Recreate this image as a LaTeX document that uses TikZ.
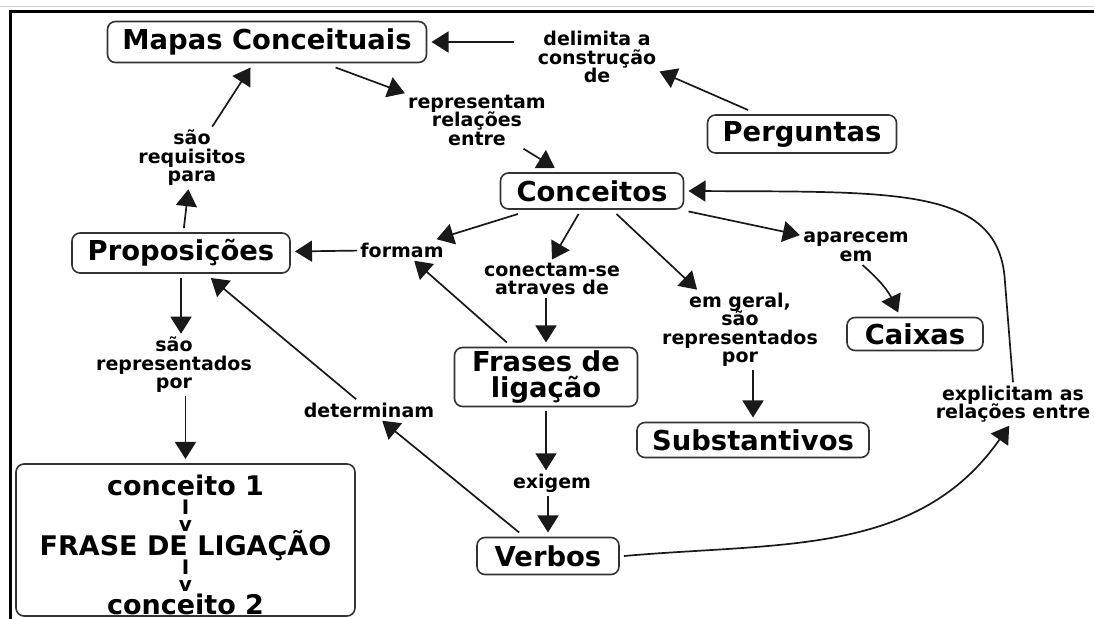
\documentclass[tikz,border=0pt]{standalone}
\usepackage{fontspec}
\setmainfont{DejaVu Sans}
\usetikzlibrary{arrows.meta}
\newcommand\tightlines{\lineskiplimit=-50pt\relax}
\begin{document}
\begin{tikzpicture}[x=0.5pt,y=-0.5pt]

\tikzset{
        every node/.style={font=\fontsize{9.5}{9.25}\selectfont\bfseries\tightlines, align=center, inner sep=1.5pt},
        link/.style={draw=black!90, line width=0.85pt, -{Triangle[length=8.5pt,width=10.5pt]}},
        concept/.style={draw=black!80, line width=0.8pt, rounded corners=4pt, fill=white, inner sep=0pt, outer sep=2.5pt,
                font=\fontsize{13.7}{12.6}\selectfont\bfseries\tightlines},
        big/.style={inner sep=0pt, text height=9.9pt, text depth=0pt, font=\fontsize{13.5}{13.5}\selectfont\bfseries},
        small/.style={inner sep=0pt, text height=5.6pt, text depth=0pt, font=\fontsize{10}{10}\selectfont\bfseries},
        frame/.style={line width=1.5pt}
}

\useasboundingbox (0,0) rectangle (1094,619);
\draw[gray!35, line width=0.5pt] (0,7) -- (1094,7);
\draw[frame] (1094,12) -- (10,12) -- (10,619);

\node[concept, minimum width=159.5pt, minimum height=20.5pt] (mapas) at (267,42) {Mapas Conceituais};
\node[concept, minimum width=94.5pt, minimum height=19pt] (perg) at (802,134) {Perguntas};
\node[concept, minimum width=91.5pt, minimum height=18pt] (conc) at (592,191) {Conceitos};
\node[concept, minimum width=109pt, minimum height=20pt] (prop) at (181,253) {Proposições};
\node[concept, minimum width=91.5pt, minimum height=29.5pt] (frases) at (546,377) {Frases de\\ligação};
\node[concept, minimum width=71pt, minimum height=18.5pt] (verbos) at (548,556) {Verbos};
\node[concept, minimum width=116pt, minimum height=17.5pt] (subst) at (753,440) {Substantivos};
\node[concept, minimum width=68pt, minimum height=16.5pt] (caixas) at (915,334) {Caixas};
\node[concept, minimum width=169.5pt, minimum height=76pt] (cbox) at (185.5,540) {};

\foreach \i/\y/\s/\t in {1/486/big/conceito 1, 2/509/small/I, 3/526/small/v, 4/546/big/FRASE DE LIGAÇÃO,
                          5/569/small/I, 6/586/small/v, 7/605/big/conceito 2} {
     \node[\s] (line\i) at (185.5,\y) {\t};
}

\node (delim) at (597,57) {delimita a\\construção\\de};
\node (repr) at (477,120) {representam\\relações\\entre};
\node (req) at (192,158) {são\\requisitos\\para};
\node (formam) at (402,250) {formam};
\node (conect) at (552,279) {conectam-se\\atraves de};
\node (emg) at (740,330) {em geral,\\são\\representados\\por};
\node (apar) at (856,247) {aparecem\\em};
\node (rep2) at (174,365) {são\\representados\\por};
\node (determ) at (369,410) {determinam};
\node (exig) at (552,483) {exigem};
\node (expl) at (1013,404) {explicitam as\\relações entre};

\draw[link, shorten <=10pt] (delim.west |- mapas.east) -- (mapas.east);
\draw[link] (mapas) -- (repr);
\draw[link] (repr) -- (conc);
\draw[link] (perg.156) -- (delim.-13);
\draw[link] (prop) -- (req);
\draw[link] (req) -- (mapas);
\draw[link] (conc) -- (formam);
\draw[link] (formam) -- (prop);
\draw[link] (frases) -- (formam);
\draw[link] (conc) -- (conect.north);
\draw[link] (conect.south -| frases.north) -- (frases.north);
\draw[link] (frases.south) -- (frases.south |- exig.north);
\draw[link] (exig.south -| verbos.north) -- (verbos.north);
\draw[link] (verbos) -- (determ);
\draw[link] (determ) -- (prop);
\draw[link] (prop.south) -- (prop.south |- rep2.north);
\draw[link] (rep2.south -| cbox.north) -- (cbox.north);
\draw[link] (conc) -- (emg);
\draw[link] (emg.south -| subst.north) -- (subst.north);
\draw[link] (conc) -- (apar);
\draw[link] (apar.-70) to[bend left=12] (caixas.128);
\draw[link] (verbos.east) to[out=5, in=235] (expl.260);
\draw[link] (expl.north) -- ++(-8,-100) .. controls +(-5,-95) and +(211,1) .. (conc.east);

\end{tikzpicture}
\end{document}
